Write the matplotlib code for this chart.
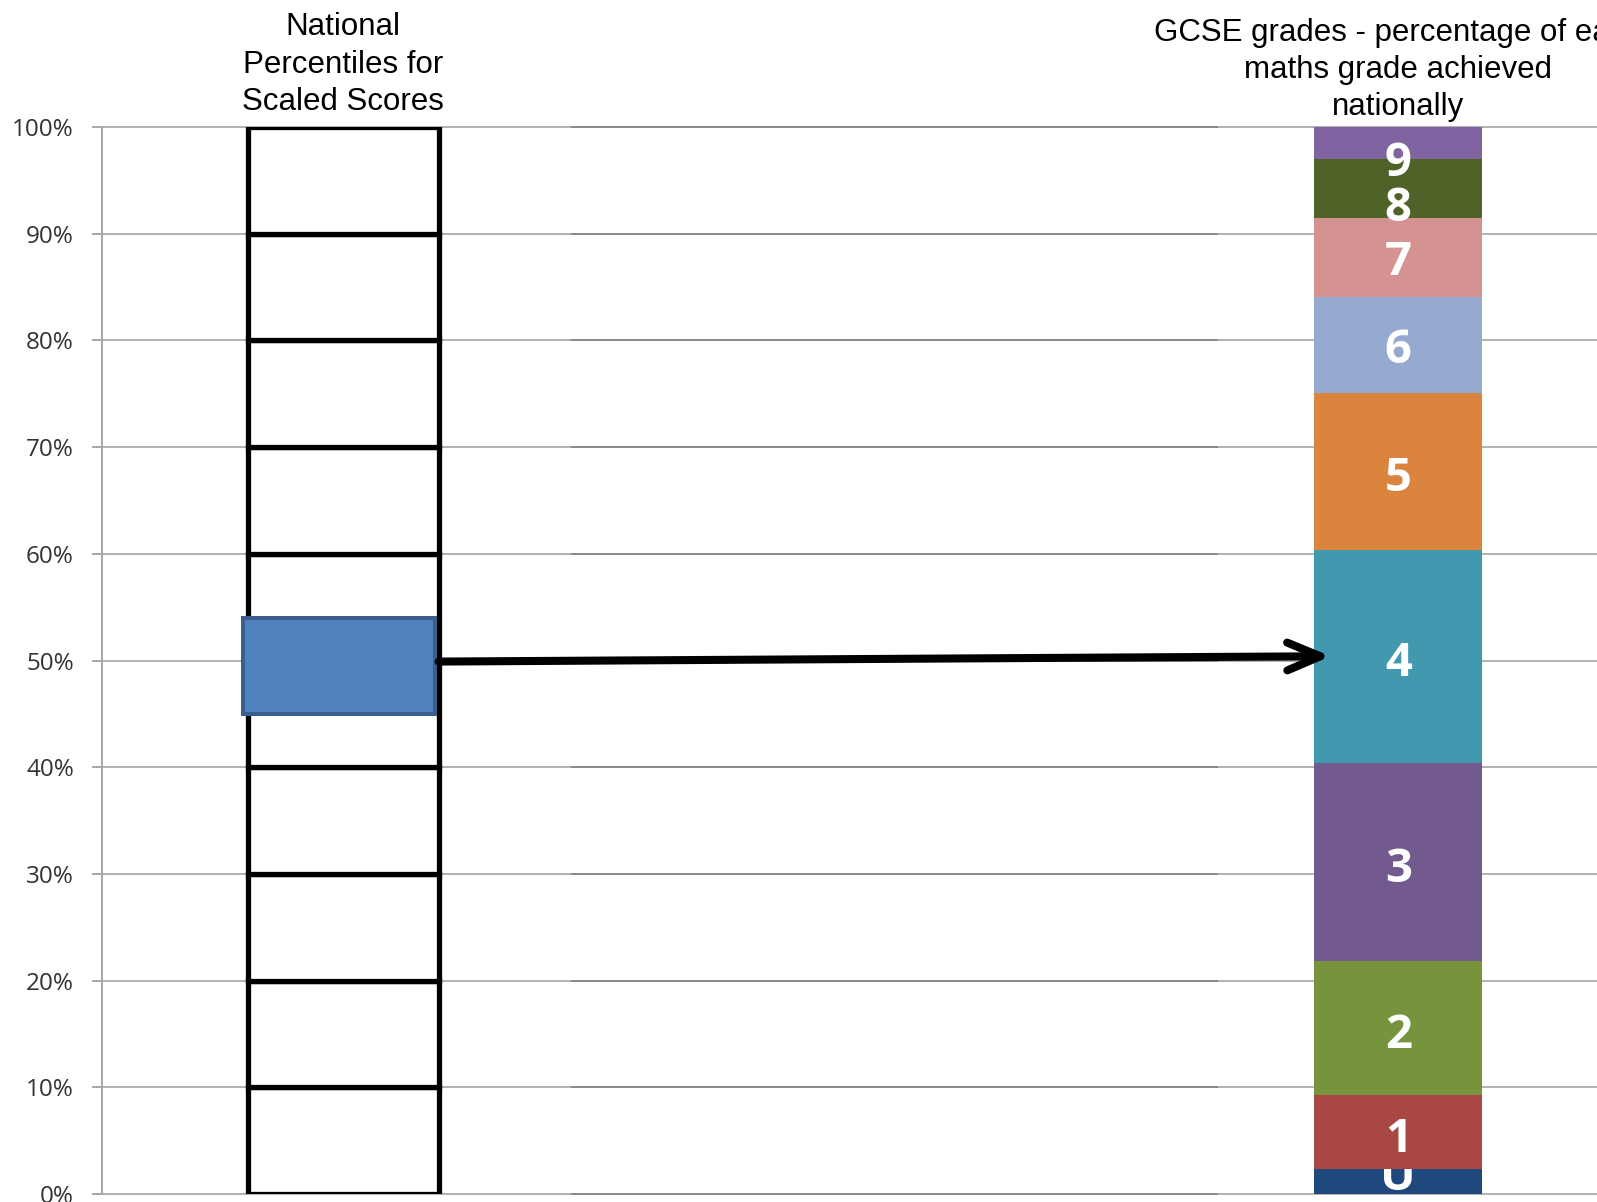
import matplotlib
matplotlib.use("Agg")
import matplotlib.pyplot as plt
from matplotlib.patches import FancyArrowPatch
import numpy as np

# Percentile ladder (ten bands of 10%)
percentile_bands = [10, 10, 10, 10, 10, 10, 10, 10, 10, 10]

# Highlighted percentile band for the scaled score
band_low = 45
band_high = 54

# GCSE maths grades, share of candidates (%), bottom to top
grades = ["U", "1", "2", "3", "4", "5", "6", "7", "8", "9"]
grade_share = [2.3, 7.0, 12.5, 18.6, 20.0, 14.7, 9.0, 7.4, 5.5, 3.0]
grade_colors = ["#1f497d", "#a94744", "#77933c", "#72598e", "#4298af",
                "#db843e", "#96a9cf", "#d49290", "#4f6228", "#8064a2"]
# vertical nudges (points) for labels that would otherwise collide
label_nudge = [3.4, -5.5, -5.5, -5.5, -5.0, -5.0, -4.5, -4.0, -14.6, -14.4]

yticks = [0, 10, 20, 30, 40, 50, 60, 70, 80, 90, 100]
ytick_labels = ["0%", "10%", "20%", "30%", "40%", "50%", "60%", "70%",
                "80%", "90%", "100%"]

left_title = "National\nPercentiles for\nScaled Scores"
right_title = "GCSE grades - percentage of each\nmaths grade achieved\nnationally"

W, H = 1597, 1202
fig = plt.figure(figsize=(W / 100, H / 100), dpi=100)
ax = fig.add_axes([102 / W, 8 / H, (W - 102) / W, (1194 - 127) / H])

ax.set_xlim(-0.2286, 1.1884)
ax.set_ylim(0, 100)

# gridlines
ax.set_axisbelow(True)
ax.yaxis.grid(True, color="#b0b0b0", lw=1.4)
for gl in ax.get_ygridlines():
    gl.set_clip_on(False)
ax.hlines(yticks, 0.216, 0.829, color="#8a8a8a", lw=1.4, zorder=0.7,
          clip_on=False)

for side in ["top", "right", "bottom"]:
    ax.spines[side].set_visible(False)
ax.spines["left"].set_color("#a6a6a6")
ax.spines["left"].set_linewidth(1.4)

ax.set_yticks(yticks)
ax.set_yticklabels(ytick_labels, family="Open Sans", fontsize=17.5,
                   color="#333333")
ax.tick_params(axis="y", length=7.2, width=1.4, color="#a6a6a6", pad=13)
ax.set_xticks([])

# percentile ladder
bottom = 0
for v in percentile_bands:
    ax.bar(0, v, bottom=bottom, width=0.181, facecolor="white",
           edgecolor="black", lw=3.8, zorder=3)
    bottom += v

# highlighted band
ax.bar(-0.0041, band_high - band_low, bottom=band_low, width=0.1823,
       facecolor="#4f81bd", edgecolor="#3b5e8c", lw=2.9, zorder=5)

# grade stack with labels
bottom = 0
for i, (g, v, c, nd) in enumerate(zip(grades, grade_share, grade_colors,
                                      label_nudge)):
    ax.bar(1, v, bottom=bottom, width=0.159, color=c, lw=0, zorder=3 + 2 * i)
    ax.annotate(g, (1, bottom + v / 2), xytext=(0, nd),
                textcoords="offset points", ha="center", va="center",
                color="white", fontsize=34, fontweight="bold",
                family="Open Sans", zorder=4 + 2 * i, clip_on=True,
                annotation_clip=False)
    bottom += v

# arrow from the highlighted band to the grade stack
arrow = FancyArrowPatch((0.0905, 49.9), (0.936, 50.4),
                        arrowstyle="->,head_length=1.19,head_width=0.5",
                        mutation_scale=20, lw=5.8, color="black",
                        shrinkA=0, shrinkB=0, capstyle="round",
                        joinstyle="round", zorder=30)
ax.add_patch(arrow)

# column titles
ax.text(0, 101.6, left_title, ha="center", va="baseline",
        multialignment="center", family="Liberation Sans", fontsize=22.5,
        linespacing=1.32, clip_on=False)
ax.text(1, 101.1, right_title, ha="center", va="baseline",
        multialignment="center", family="Liberation Sans", fontsize=22.5,
        linespacing=1.32, clip_on=False)

fig.savefig("out.png", dpi=100)
